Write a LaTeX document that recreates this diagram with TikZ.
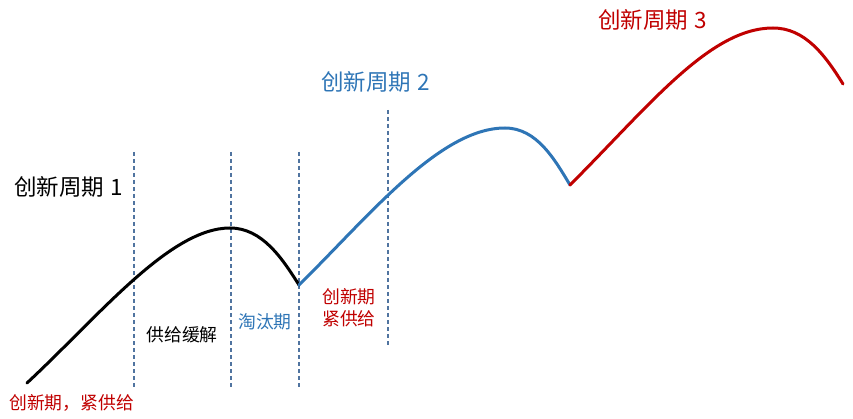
\documentclass[tikz,border=0pt]{standalone}
\usepackage{fontspec}
\setmainfont{Noto Sans CJK SC}
\usepackage{xcolor}
\usepackage{tikz}
\usetikzlibrary{positioning, calc}

\definecolor{cycblue}{RGB}{46,117,182}
\definecolor{cycred}{RGB}{192,0,0}
\definecolor{gridblue}{RGB}{80,116,160}

\tikzset{
  cycline/.style={line width=3pt, line cap=round},
  phaseline/.style={gridblue, line width=1.1pt, dash pattern=on 4pt off 3pt},
  bigtitle/.style={font=\fontsize{22.5}{26}\selectfont, inner sep=0pt},
  phaselabel/.style={font=\fontsize{17.8}{21}\selectfont, inner sep=0pt, align=center}
}

\begin{document}
\begin{tikzpicture}[x=1pt, y=-1pt]
  \useasboundingbox (0,0) rectangle (853,419);

  % key points of the three cycles
  \coordinate (start1) at (27,383);
  \coordinate (peak1) at (230,228);
  \coordinate (low1) at (299,285);
  \coordinate (peak2) at (505,128);
  \coordinate (low2) at (570,185);
  \coordinate (peak3) at (773,28);
  \coordinate (end3) at (843,84);

  % phase boundaries
  \foreach \x/\top/\bot in {134/152/387, 231/152/387, 299/152/387, 388/110/345} {
    \draw[phaseline] (\x,\top) -- (\x,\bot);
  }

  % cycle curves
  \draw[cycline, black] (start1) .. controls (100,315) and (170,228) .. (peak1)
    .. controls (262,228) and (282,258) .. (low1);
  \draw[cycline, cycblue] (low1) .. controls (370,215) and (440,128) .. (peak2)
    .. controls (537,128) and (555,160) .. (low2);
  \draw[cycline, cycred] (low2) .. controls (650,105) and (710,28) .. (peak3)
    .. controls (805,28) and (825,55) .. (end3);

  % titles
  \node[bigtitle, anchor=west] (title1) at (14,187) {创新周期\hspace{0.3em}1};
  \node[bigtitle, anchor=west, text=cycblue] (title2) at (321,82) {创新周期\hspace{0.3em}2};
  \node[bigtitle, anchor=west, text=cycred] (title3) at (598,20) {创新周期\hspace{0.3em}3};

  % phase labels
  \node[phaselabel] (ease) at (182,335) {供给缓解};
  \node[phaselabel, text=cycblue] (weedout) at (265,322) {淘汰期};
  \node[phaselabel, text=cycred, anchor=north west] (tight2) at (322,288) {创新期\\[1pt]紧供给};
  \node[phaselabel, text=cycred, anchor=west] (tight1) at (9,403) {创新期，紧供给};
\end{tikzpicture}
\end{document}
